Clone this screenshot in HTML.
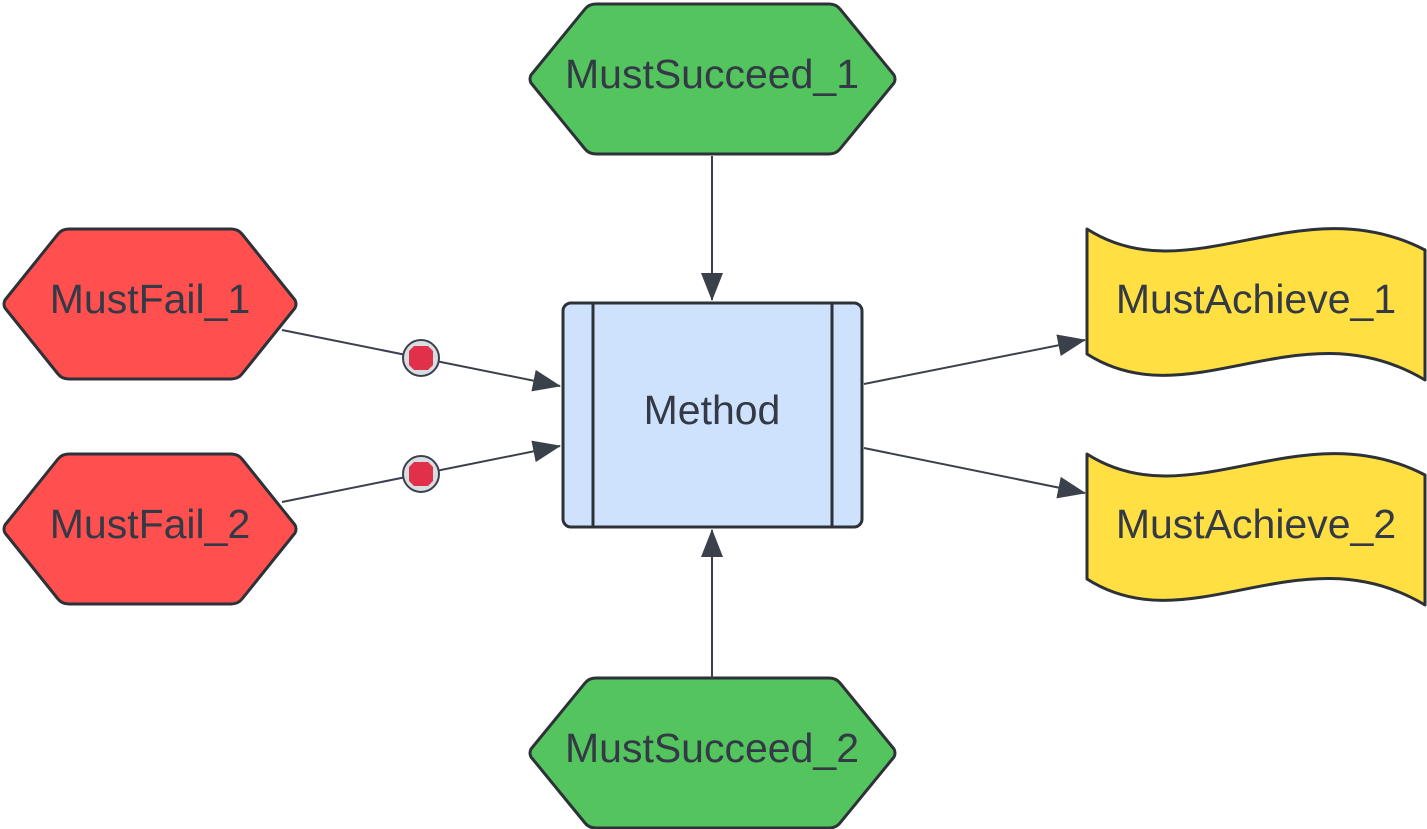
<!DOCTYPE html>
<html><head><style>html,body{margin:0;padding:0;background:#fff;}svg{display:block}</style></head>
<body>
<svg width="1427" height="829" viewBox="0 0 1427 829" xmlns="http://www.w3.org/2000/svg" font-family="Liberation Sans, sans-serif">
<defs>
<marker id="b" markerWidth="28" markerHeight="22" refX="27" refY="11" orient="auto" markerUnits="userSpaceOnUse" viewBox="0 0 28 22">
<path d="M0,0 L28,11 L0,22 Z" fill="#3a414a"/></marker>
</defs>
<g stroke="#2d3138" stroke-width="3" stroke-linejoin="round">
<path d="M531,75 Q529,79 531,83 L585,149 Q589,154 596,154 L829,154 Q836,154 840,149 L894,83 Q896,79 894,75 L840,9 Q836,4 829,4 L596,4 Q589,4 585,9 Z" fill="#54c45e"/>
<path d="M531,749 Q529,753 531,757 L585,823 Q589,828 596,828 L829,828 Q836,828 840,823 L894,757 Q896,753 894,749 L840,683 Q836,678 829,678 L596,678 Q589,678 585,683 Z" fill="#54c45e"/>
<path d="M5,300 Q3,304 5,308 L58,374 Q62,379 69,379 L231,379 Q238,379 242,374 L295,308 Q297,304 295,300 L242,234 Q238,229 231,229 L69,229 Q62,229 58,234 Z" fill="#ff4f4f"/>
<path d="M5,525 Q3,529 5,533 L58,599 Q62,604 69,604 L231,604 Q238,604 242,599 L295,533 Q297,529 295,525 L242,459 Q238,454 231,454 L69,454 Q62,454 58,459 Z" fill="#ff4f4f"/>
<rect x="563" y="303" width="299" height="224" rx="8" fill="#cfe2fd"/>
<line x1="593" y1="303" x2="593" y2="527"/><line x1="832" y1="303" x2="832" y2="527"/>
<path d="M1087,229 C1190,295 1300,185 1425,250 L1425,380 C1300,305 1190,420 1087,354 Z" fill="#ffdf42"/>
<path d="M1087,454 C1190,520 1300,410 1425,475 L1425,605 C1300,530 1190,645 1087,579 Z" fill="#ffdf42"/>
</g>
<g stroke="#3a414a" stroke-width="2" fill="none">
<line x1="282" y1="330" x2="560" y2="386" marker-end="url(#b)"/>
<line x1="282" y1="502" x2="560" y2="446" marker-end="url(#b)"/>
<line x1="864" y1="384" x2="1085" y2="340" marker-end="url(#b)"/>
<line x1="864" y1="448" x2="1085" y2="493" marker-end="url(#b)"/>
<line x1="712" y1="156" x2="712" y2="300" marker-end="url(#b)"/>
<line x1="712" y1="678" x2="712" y2="530" marker-end="url(#b)"/>
</g>
<g>
<circle cx="421" cy="358" r="18" fill="#d8dde3" stroke="#3a414a" stroke-width="2"/>
<path d="M414,346 L428,346 L433,351 L433,365 L428,370 L414,370 L409,365 L409,351 Z" fill="#e0304a"/>
<circle cx="421" cy="474" r="18" fill="#d8dde3" stroke="#3a414a" stroke-width="2"/>
<path d="M414,462 L428,462 L433,467 L433,481 L428,486 L414,486 L409,481 L409,467 Z" fill="#e0304a"/>
</g>
<g fill="#333a45" font-size="41" text-anchor="middle">
<text x="712" y="88">MustSucceed_1</text>
<text x="712" y="762">MustSucceed_2</text>
<text x="150" y="313">MustFail_1</text>
<text x="150" y="538">MustFail_2</text>
<text x="712" y="424">Method</text>
<text x="1256" y="313">MustAchieve_1</text>
<text x="1256" y="538">MustAchieve_2</text>
</g>
</svg>
</body></html>
